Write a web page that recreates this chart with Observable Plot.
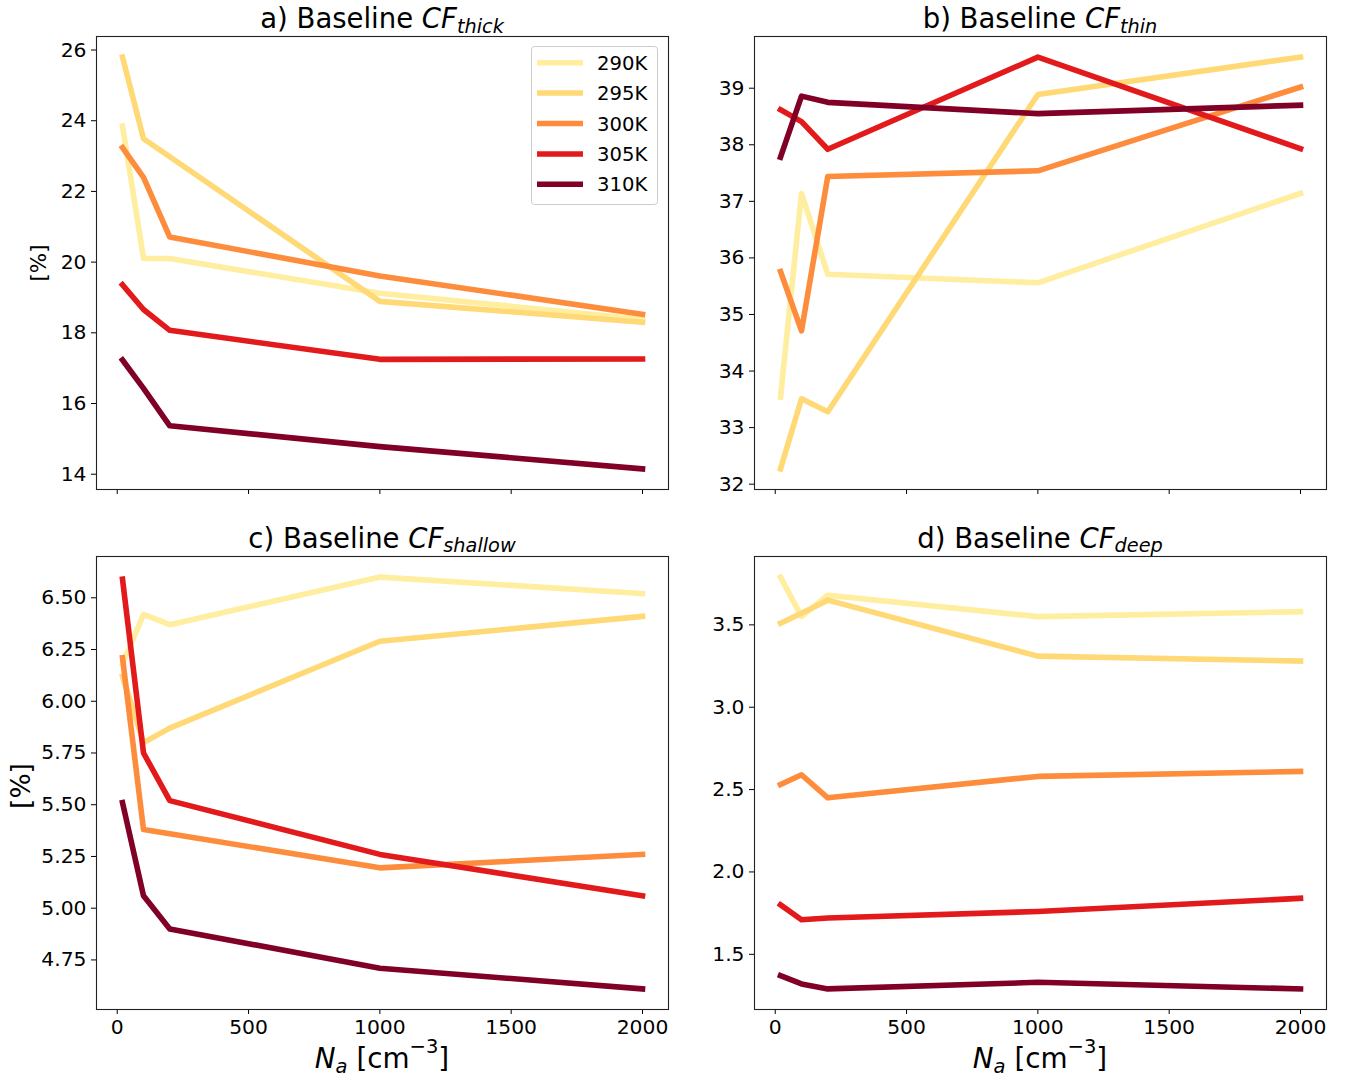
<!DOCTYPE html>
<html><head><meta charset="utf-8">
<script src="https://cdn.jsdelivr.net/npm/d3@7"></script>
<script src="https://cdn.jsdelivr.net/npm/@observablehq/plot@0.6"></script>
<style>
body{margin:0;background:#fff;font-family:"DejaVu Sans",sans-serif;}
#wrap{position:relative;width:1346px;height:1081px;overflow:hidden;}
#wrap > svg{position:absolute;max-width:none;}
</style></head><body><div id="wrap"></div>
<script>
const naValues = [20, 100, 200, 1000, 2000];
const temperatures = ["290K", "295K", "300K", "305K", "310K"];
const lineColors = ["#ffeda0", "#fed976", "#fd8d3c", "#e31a1c", "#800026"];
const xTicks = [0, 500, 1000, 1500, 2000];

// rows follow temperatures order
const cfThick = [
  [23.85, 20.11, 20.10, 19.12, 18.38],
  [25.80, 23.49, 22.98, 18.89, 18.30],
  [23.24, 22.40, 20.71, 19.61, 18.52],
  [19.36, 18.66, 18.07, 17.25, 17.26],
  [17.23, 16.43, 15.37, 14.78, 14.15]
];
const cfThin = [
  [33.54, 37.14, 35.71, 35.56, 37.14],
  [32.27, 33.51, 33.28, 38.89, 39.55],
  [35.76, 34.71, 37.44, 37.54, 39.02],
  [38.62, 38.41, 37.92, 39.55, 37.93],
  [37.78, 38.86, 38.75, 38.55, 38.70]
];
const cfShallow = [
  [6.18, 6.42, 6.37, 6.60, 6.52],
  [6.12, 5.80, 5.87, 6.29, 6.41],
  [6.21, 5.38, 5.36, 5.195, 5.26],
  [6.59, 5.75, 5.52, 5.26, 5.06],
  [5.51, 5.06, 4.90, 4.71, 4.61]
];
const cfDeep = [
  [3.79, 3.55, 3.68, 3.55, 3.58],
  [3.51, 3.57, 3.65, 3.31, 3.28],
  [2.53, 2.59, 2.45, 2.58, 2.61],
  [1.80, 1.71, 1.72, 1.76, 1.84],
  [1.37, 1.32, 1.29, 1.33, 1.29]
];
const thickTicks = [14, 16, 18, 20, 22, 24, 26];
const thinTicks = [32, 33, 34, 35, 36, 37, 38, 39];
const shallowTicks = [4.75, 5.00, 5.25, 5.50, 5.75, 6.00, 6.25, 6.50];
const deepTicks = [1.5, 2.0, 2.5, 3.0, 3.5];

const panels = [
  {label: "a) Baseline ", sub: "thick", values: cfThick, ticks: thickTicks, fmt: d3.format("d"), left: 0, top: 0, height: 519, xLabels: false},
  {label: "b) Baseline ", sub: "thin", values: cfThin, ticks: thinTicks, fmt: d3.format("d"), left: 658, top: 0, height: 519, xLabels: false},
  {label: "c) Baseline ", sub: "shallow", values: cfShallow, ticks: shallowTicks, fmt: d3.format(".2f"), left: 0, top: 520, height: 533, xLabels: true},
  {label: "d) Baseline ", sub: "deep", values: cfDeep, ticks: deepTicks, fmt: d3.format(".1f"), left: 658, top: 520, height: 533, xLabels: true}
];

const wrap = document.getElementById("wrap");
const innerH = [453, 453];
const tickFont = 20.3;

panels.forEach((p, k) => {
  const rows = [];
  p.values.forEach((arr, i) => arr.forEach((v, j) => rows.push({t: temperatures[i], x: naValues[j], y: v})));
  const all = p.values.flat();
  const mn = d3.min(all), mx = d3.max(all), r = mx - mn;
  const xr = naValues[naValues.length - 1] - naValues[0];
  const ih = innerH[k < 2 ? 0 : 1];
  const chart = Plot.plot({
    width: 674, height: p.height,
    marginLeft: 96, marginRight: 6, marginTop: 36, marginBottom: p.height - 36 - ih,
    x: {domain: [naValues[0] - 0.05 * xr, naValues[naValues.length - 1] + 0.05 * xr]},
    y: {domain: [mn - 0.05 * r, mx + 0.05 * r]},
    color: {domain: temperatures, range: lineColors},
    style: {fontFamily: "DejaVu Sans", fontSize: tickFont + "px", color: "#000", background: "transparent", overflow: "visible"},
    marks: [
      Plot.axisX({ticks: xTicks, tickSize: 5, tickPadding: 5, tickFormat: p.xLabels ? d3.format("d") : () => "", label: null, fontSize: tickFont}),
      Plot.axisY({ticks: p.ticks, tickSize: 5, tickPadding: 5, tickFormat: p.fmt, label: null, fontSize: tickFont}),
      Plot.line(rows, {x: "x", y: "y", z: "t", stroke: "t", strokeWidth: 5.6, strokeLinejoin: "round", strokeLinecap: "square"}),
      Plot.frame({stroke: "#222", strokeWidth: 1.1})
    ]
  });
  chart.style.left = p.left + "px";
  chart.style.top = p.top + "px";
  wrap.appendChild(chart);
});

// overlay text: titles, axis labels, legend
const ov = d3.create("svg").attr("width", 1346).attr("height", 1081)
  .style("left", "0px").style("top", "0px").style("font-family", "DejaVu Sans").style("pointer-events", "none");

const titlePos = [[382, 28], [1040, 28], [382, 547.5], [1040, 547.5]];
panels.forEach((p, k) => {
  const t = ov.append("text").attr("x", titlePos[k][0]).attr("y", titlePos[k][1])
    .attr("text-anchor", "middle").attr("font-size", 27.5).attr("fill", "#000");
  t.append("tspan").text(p.label);
  t.append("tspan").attr("font-style", "italic").text("CF");
  t.append("tspan").attr("font-style", "italic").attr("font-size", 19.3).attr("dy", 4.5).text(p.sub);
});

// y labels
ov.append("text").attr("transform", "translate(46,263) rotate(-90)").attr("text-anchor", "middle")
  .attr("font-size", 21.5).text("[%]");
ov.append("text").attr("transform", "translate(30,786) rotate(-90)").attr("text-anchor", "middle")
  .attr("font-size", 26.5).text("[%]");

// x labels
[382, 1040].forEach(cx => {
  const t = ov.append("text").attr("x", cx).attr("y", 1068).attr("text-anchor", "middle").attr("font-size", 27.8);
  t.append("tspan").attr("font-style", "italic").text("N");
  t.append("tspan").attr("font-style", "italic").attr("font-size", 19.5).attr("dy", 5).text("a");
  t.append("tspan").attr("dy", -5).text(" [cm");
  t.append("tspan").attr("font-size", 19.5).attr("dy", -15).text("\u22123");
  t.append("tspan").attr("dy", 15).text("]");
});

// legend
const lg = ov.append("g");
lg.append("rect").attr("x", 531.5).attr("y", 46.5).attr("width", 126).attr("height", 158).attr("rx", 3)
  .attr("fill", "white").attr("fill-opacity", 0.8).attr("stroke", "#cccccc").attr("stroke-width", 1);
temperatures.forEach((tk, i) => {
  const yy = 62.7 + i * 30.4;
  lg.append("line").attr("x1", 537).attr("x2", 583).attr("y1", yy).attr("y2", yy)
    .attr("stroke", lineColors[i]).attr("stroke-width", 5.5);
  lg.append("text").attr("x", 597).attr("y", yy + 7).attr("font-size", 19.6).text(tk);
});
wrap.appendChild(ov.node());
</script></body></html>
